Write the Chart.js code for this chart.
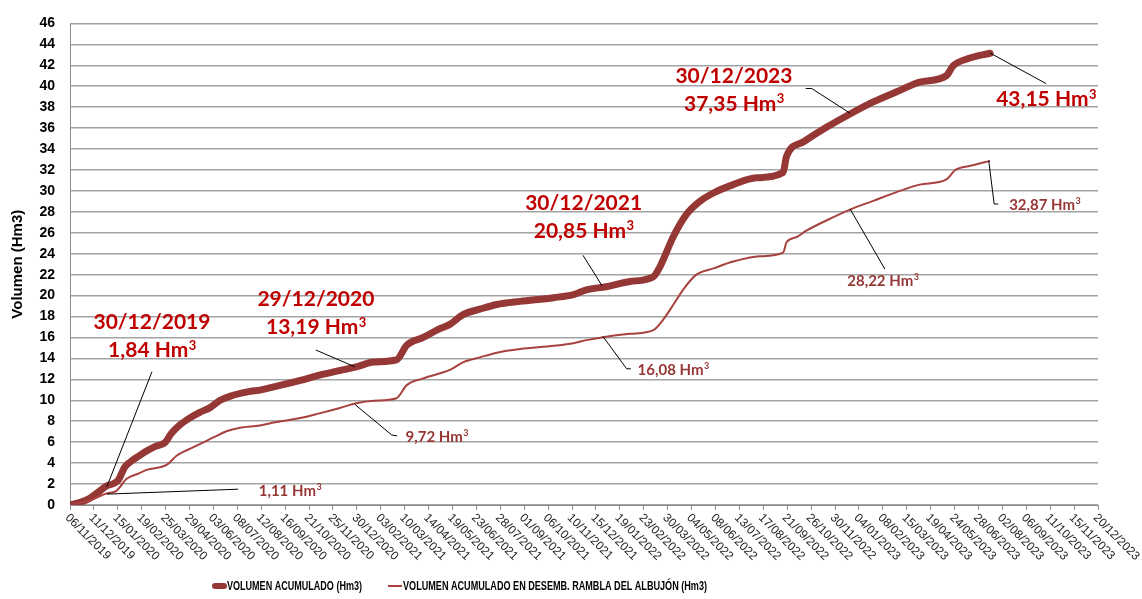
<!DOCTYPE html>
<html>
<head>
<meta charset="utf-8">
<script src="https://cdn.jsdelivr.net/npm/chart.js@4.4.1/dist/chart.umd.min.js"></script>
<style>
  html, body { margin: 0; background: #fff; }
  #wrap { width: 1142px; height: 599px; }
</style>
</head>
<body>
<div id="wrap"><canvas id="myChart"></canvas></div>
<script>
// x axis tick labels (every 35 days)
const tickDates = [
  "06/11/2019", "11/12/2019", "15/01/2020", "19/02/2020", "25/03/2020", "29/04/2020",
  "03/06/2020", "08/07/2020", "12/08/2020", "16/09/2020", "21/10/2020", "25/11/2020",
  "30/12/2020", "03/02/2021", "10/03/2021", "14/04/2021", "19/05/2021", "23/06/2021",
  "28/07/2021", "01/09/2021", "06/10/2021", "10/11/2021", "15/12/2021", "19/01/2022",
  "23/02/2022", "30/03/2022", "04/05/2022", "08/06/2022", "13/07/2022", "17/08/2022",
  "21/09/2022", "26/10/2022", "30/11/2022", "04/01/2023", "08/02/2023", "15/03/2023",
  "19/04/2023", "24/05/2023", "28/06/2023", "02/08/2023", "06/09/2023", "11/10/2023",
  "15/11/2023", "20/12/2023"
];

// VOLUMEN ACUMULADO (Hm3)
const totalDates = [
  "06/11/2019", "21/11/2019", "05/12/2019", "18/12/2019", "30/12/2019", "09/01/2020",
  "16/01/2020", "25/01/2020", "02/02/2020", "14/02/2020", "26/02/2020", "10/03/2020",
  "24/03/2020", "02/04/2020", "14/04/2020", "29/04/2020", "14/05/2020", "29/05/2020",
  "13/06/2020", "28/06/2020", "23/07/2020", "12/08/2020", "01/09/2020", "08/10/2020",
  "05/11/2020", "05/12/2020", "29/12/2020", "24/01/2021", "26/02/2021", "13/03/2021",
  "06/04/2021", "29/04/2021", "15/05/2021", "04/06/2021", "28/06/2021", "23/07/2021",
  "26/08/2021", "14/10/2021", "12/11/2021", "01/12/2021", "30/12/2021", "03/02/2022",
  "09/03/2022", "19/03/2022", "07/04/2022", "27/04/2022", "16/05/2022", "05/06/2022",
  "04/07/2022", "07/08/2022", "15/09/2022", "20/09/2022", "15/10/2022", "18/11/2022",
  "22/12/2022", "25/01/2023", "05/03/2023", "03/04/2023", "12/05/2023", "22/05/2023",
  "11/06/2023", "15/07/2023"
];
const totalValues = [
  0.00, 0.25, 0.65, 1.25, 1.84, 2.05,
  2.40, 3.60, 4.10, 4.65, 5.15, 5.60,
  5.95, 6.80, 7.60, 8.30, 8.85, 9.30,
  10.00, 10.40, 10.80, 11.00, 11.30, 11.90,
  12.40, 12.85, 13.19, 13.65, 13.85, 15.25,
  16.00, 16.80, 17.25, 18.20, 18.70, 19.15,
  19.45, 19.80, 20.10, 20.55, 20.85, 21.35,
  21.80, 22.80, 25.60, 27.80, 29.00, 29.80,
  30.60, 31.25, 31.75, 33.30, 34.70, 36.10,
  37.35, 38.50, 39.60, 40.40, 41.00, 41.95,
  42.60, 43.15
];

// VOLUMEN ACUMULADO EN DESEMB. RAMBLA DEL ALBUJÓN (Hm3)
const albujonDates = [
  "06/11/2019", "05/12/2019", "30/12/2019", "13/01/2020", "28/01/2020", "14/02/2020",
  "26/02/2020", "27/03/2020", "10/04/2020", "04/05/2020", "03/06/2020", "22/06/2020",
  "12/07/2020", "10/08/2020", "01/09/2020", "08/10/2020", "05/11/2020", "05/12/2020",
  "29/12/2020", "24/01/2021", "26/02/2021", "13/03/2021", "06/04/2021", "15/05/2021",
  "04/06/2021", "28/06/2021", "23/07/2021", "26/08/2021", "14/10/2021", "12/11/2021",
  "01/12/2021", "30/12/2021", "03/02/2022", "09/03/2022", "24/03/2022", "07/04/2022",
  "22/04/2022", "11/05/2022", "05/06/2022", "04/07/2022", "12/08/2022", "15/09/2022",
  "20/09/2022", "05/10/2022", "19/10/2022", "18/11/2022", "22/12/2022", "25/01/2023",
  "05/03/2023", "03/04/2023", "12/05/2023", "25/05/2023", "16/06/2023", "15/07/2023"
];
const albujonValues = [
  0.00, 0.45, 1.11, 1.35, 2.50, 3.00,
  3.35, 3.85, 4.70, 5.50, 6.45, 7.05,
  7.38, 7.60, 7.90, 8.30, 8.75, 9.27,
  9.72, 9.96, 10.20, 11.45, 12.10, 12.90,
  13.65, 14.10, 14.55, 14.90, 15.20, 15.45,
  15.75, 16.08, 16.35, 16.70, 17.75, 19.10,
  20.60, 22.00, 22.60, 23.25, 23.75, 24.10,
  25.10, 25.60, 26.20, 27.20, 28.22, 29.05,
  30.00, 30.60, 31.10, 32.00, 32.40, 32.87
];

// callouts: x in days from 06/11/2019, y in Hm3
const notes = [
  { lines: ["30/12/2019", "1,84 Hm³"], big: true, x: 120, y: 17.44, leader: [[54, 1.75], [120, 12.73]] },
  { lines: ["29/12/2020", "13,19 Hm³"], big: true, x: 360, y: 19.61, leader: [[360, 14.8], [417, 13.2]] },
  { lines: ["30/12/2021", "20,85 Hm³"], big: true, x: 752, y: 28.84, leader: [[751, 23.85], [779, 20.93]] },
  { lines: ["30/12/2023", "37,35 Hm³"], big: true, x: 972, y: 41.0, leader: [[1077, 39.78], [1086, 39.78], [1142, 37.42]] },
  { lines: ["43,15 Hm³"], big: true, x: 1429, y: 38.74, leader: [[1347, 43.17], [1429, 40.25]] },
  { lines: ["1,11 Hm³"], big: false, x: 322, y: 1.32, leader: [[54, 1.04], [246, 1.51]] },
  { lines: ["9,72 Hm³"], big: false, x: 537, y: 6.5, leader: [[417, 9.61], [471, 6.69], [479, 6.6]] },
  { lines: ["16,08 Hm³"], big: false, x: 883, y: 12.91, leader: [[780, 16.12], [815, 13.01], [821, 13.01]] },
  { lines: ["28,22 Hm³"], big: false, x: 1190, y: 21.4, leader: [[1142, 28.28], [1193, 22.53]] },
  { lines: ["32,87 Hm³"], big: false, x: 1427, y: 28.65, leader: [[1345, 32.9], [1353, 28.75], [1359, 28.75]] }
];

// days since the first tick
const dayOf = (s) => {
  const [d, m, y] = s.split("/").map(Number);
  return Math.round((Date.UTC(y, m - 1, d) - Date.UTC(2019, 10, 6)) / 864e5);
};
const toPoints = (dates, values) => dates.map((d, i) => ({ x: dayOf(d), y: values[i] }));

// centred text, with a trailing "³" drawn as a real raised 3
function drawLabel(ctx, txt, cx, cy, size) {
  const face = "Lato, \"Open Sans\", sans-serif";
  const main = txt.replace("³", "");
  const hasSup = main !== txt;
  ctx.font = `bold ${size}px ${face}`;
  const w1 = ctx.measureText(main).width;
  ctx.font = `bold ${Math.round(size * 0.62)}px ${face}`;
  const w2 = hasSup ? ctx.measureText("3").width : 0;
  const left = cx - (w1 + w2) / 2;
  ctx.textAlign = "left";
  ctx.textBaseline = "middle";
  ctx.font = `bold ${size}px ${face}`;
  ctx.fillText(main, left, cy);
  if (hasSup) {
    ctx.font = `bold ${Math.round(size * 0.62)}px ${face}`;
    ctx.fillText("3", left + w1 + 0.5, cy - size * 0.24);
  }
}

const extras = {
  id: "extras",
  afterDraw(chart) {
    const { ctx, scales: { x, y } } = chart;

    // rotated date labels under the axis
    ctx.save();
    ctx.fillStyle = "#262626";
    ctx.font = '12px "Liberation Sans", Arial, sans-serif';
    ctx.textAlign = "left";
    ctx.textBaseline = "middle";
    x.ticks.forEach((t, i) => {
      ctx.save();
      ctx.translate(x.getPixelForValue(t.value) - 3, y.bottom + 11);
      ctx.rotate(Math.PI / 4);
      ctx.fillText(tickDates[i], 0, 0);
      ctx.restore();
    });
    ctx.restore();

    // callouts
    notes.forEach((n) => {
      ctx.save();
      ctx.strokeStyle = "#000";
      ctx.lineWidth = 1;
      ctx.beginPath();
      n.leader.forEach(([lx, ly], i) => {
        const px = x.getPixelForValue(lx), py = y.getPixelForValue(ly);
        if (i === 0) ctx.moveTo(px, py); else ctx.lineTo(px, py);
      });
      ctx.stroke();
      ctx.fillStyle = n.big ? "#c00000" : "#953735";
      n.lines.forEach((txt, i) => {
        drawLabel(ctx, txt, x.getPixelForValue(n.x), y.getPixelForValue(n.y) + i * 28, n.big ? 21 : 15);
      });
      ctx.restore();
    });

    // legend (sample + text squeezed to the original widths)
    const legendSlots = [[212, 227, 135], [388, 403, 304]];
    ctx.save();
    ctx.font = 'bold 13px "Liberation Sans", Arial, sans-serif';
    ctx.textBaseline = "middle";
    ctx.textAlign = "left";
    const ly = 586;
    chart.data.datasets.forEach((ds, i) => {
      const [s0, t0, tw] = legendSlots[i];
      const thick = ds.borderWidth > 3;
      ctx.strokeStyle = ds.borderColor;
      ctx.lineWidth = thick ? 6 : 2;
      ctx.lineCap = thick ? "round" : "butt";
      ctx.beginPath();
      ctx.moveTo(s0 + (thick ? 3 : 0), ly);
      ctx.lineTo(t0 - (thick ? 3 : 1), ly);
      ctx.stroke();
      ctx.fillStyle = "#000";
      const w = ctx.measureText(ds.label).width;
      ctx.save();
      ctx.translate(t0, ly);
      ctx.scale(tw / w, 1);
      ctx.fillText(ds.label, 0, 0);
      ctx.restore();
    });
    ctx.restore();
  }
};

new Chart(document.getElementById("myChart"), {
  type: "line",
  data: {
    datasets: [
      {
        label: "VOLUMEN ACUMULADO (Hm3)",
        data: toPoints(totalDates, totalValues),
        borderColor: "#953735",
        borderWidth: 7,
        borderCapStyle: "round",
        borderJoinStyle: "round",
        pointRadius: 0,
        cubicInterpolationMode: "monotone",
        order: 2
      },
      {
        label: "VOLUMEN ACUMULADO EN DESEMB. RAMBLA DEL ALBUJÓN (Hm3)",
        data: toPoints(albujonDates, albujonValues),
        borderColor: "#a8423f",
        borderWidth: 2,
        pointRadius: 0,
        cubicInterpolationMode: "monotone",
        order: 1
      }
    ]
  },
  options: {
    responsive: true,
    maintainAspectRatio: false,
    animation: false,
    layout: { padding: { top: 17, right: 44, left: 0, bottom: 0 } },
    plugins: { legend: { display: false }, tooltip: { enabled: false } },
    scales: {
      x: {
        type: "linear",
        min: 0,
        max: dayOf(tickDates[tickDates.length - 1]),
        afterBuildTicks: (scale) => {
          scale.ticks = tickDates.map((d) => ({ value: dayOf(d) }));
        },
        afterFit: (scale) => { scale.height = 94; },
        ticks: { display: false },
        grid: { drawOnChartArea: false, drawTicks: true, tickLength: 5, color: "#8c8c8c" },
        border: { color: "#8c8c8c" }
      },
      y: {
        min: 0,
        max: 46,
        afterFit: (scale) => { scale.width = 70; },
        ticks: {
          stepSize: 2,
          padding: 15,
          color: "#000",
          font: { family: '"Liberation Sans", Arial, sans-serif', size: 14, weight: "bold" }
        },
        grid: { color: "#a3a3a3", lineWidth: 1.5, drawTicks: false },
        border: { color: "#8c8c8c" },
        title: {
          display: true,
          text: "Volumen (Hm3)",
          color: "#000",
          padding: { top: 9, bottom: 0 },
          font: { family: '"Liberation Sans", Arial, sans-serif', size: 15, weight: "bold" }
        }
      }
    }
  },
  plugins: [extras]
});
</script>
</body>
</html>
